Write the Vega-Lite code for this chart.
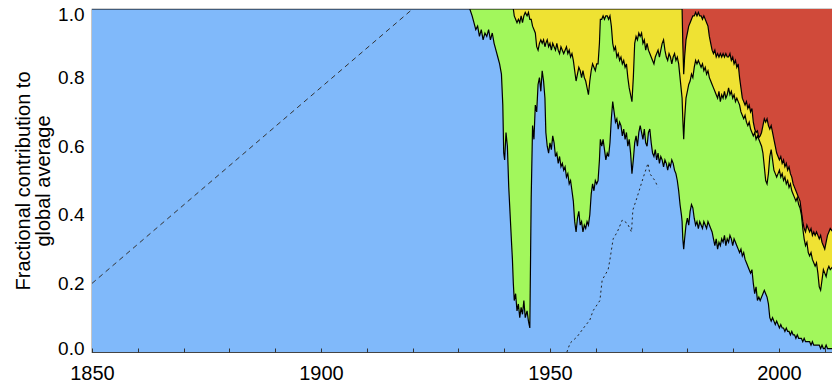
{
  "$schema": "https://vega.github.io/schema/vega-lite/v6.json",
  "autosize": {"type": "none"},
  "padding": {"left": 92, "top": 9, "right": 0, "bottom": 31},
  "width": 741,
  "height": 343,
  "background": "white",
  "config": {
    "view": {"stroke": "#444", "strokeWidth": 1.2},
    "font": "Liberation Sans",
    "axis": {"labelFont": "Liberation Sans", "titleFont": "Liberation Sans", "labelColor": "black", "titleColor": "black", "grid": false}
  },
  "datasets": {
    "parts": [
      {"t":1850,"b":1,"bg":1,"bgy":1},
      {"t":1932.5,"b":1,"bg":1,"bgy":1},
      {"t":1933.0,"b":0.98,"bg":1,"bgy":1},
      {"t":1933.4,"b":0.96,"bg":1,"bgy":1},
      {"t":1933.8,"b":0.94,"bg":1,"bgy":1},
      {"t":1934.2,"b":0.95,"bg":1,"bgy":1},
      {"t":1934.6,"b":0.92,"bg":1,"bgy":1},
      {"t":1935.0,"b":0.94,"bg":1,"bgy":1},
      {"t":1935.4,"b":0.91,"bg":1,"bgy":1},
      {"t":1935.8,"b":0.93,"bg":1,"bgy":1},
      {"t":1936.2,"b":0.92,"bg":1,"bgy":1},
      {"t":1936.6,"b":0.94,"bg":1,"bgy":1},
      {"t":1937.0,"b":0.91,"bg":1,"bgy":1},
      {"t":1937.4,"b":0.93,"bg":1,"bgy":1},
      {"t":1937.8,"b":0.90,"bg":1,"bgy":1},
      {"t":1938.2,"b":0.88,"bg":1,"bgy":1},
      {"t":1938.6,"b":0.86,"bg":1,"bgy":1},
      {"t":1939.0,"b":0.84,"bg":1,"bgy":1},
      {"t":1939.4,"b":0.81,"bg":1,"bgy":1},
      {"t":1939.7,"b":0.72,"bg":1,"bgy":1},
      {"t":1939.9,"b":0.58,"bg":1,"bgy":1},
      {"t":1940.1,"b":0.56,"bg":1,"bgy":1},
      {"t":1940.4,"b":0.64,"bg":1,"bgy":1},
      {"t":1940.7,"b":0.60,"bg":1,"bgy":1},
      {"t":1941.0,"b":0.48,"bg":1,"bgy":1},
      {"t":1941.3,"b":0.40,"bg":1,"bgy":1},
      {"t":1941.6,"b":0.32,"bg":1,"bgy":1},
      {"t":1941.8,"b":0.27,"bg":1,"bgy":1},
      {"t":1942.0,"b":0.20,"bg":1,"bgy":1},
      {"t":1942.2,"b":0.15,"bg":0.98,"bgy":1},
      {"t":1942.5,"b":0.17,"bg":0.97,"bgy":1},
      {"t":1942.8,"b":0.12,"bg":0.96,"bgy":1},
      {"t":1943.1,"b":0.14,"bg":0.97,"bgy":1},
      {"t":1943.4,"b":0.10,"bg":0.96,"bgy":1},
      {"t":1943.7,"b":0.13,"bg":0.98,"bgy":1},
      {"t":1944.0,"b":0.11,"bg":0.96,"bgy":1},
      {"t":1944.3,"b":0.15,"bg":0.98,"bgy":1},
      {"t":1944.6,"b":0.10,"bg":0.99,"bgy":1},
      {"t":1945.0,"b":0.12,"bg":0.98,"bgy":1},
      {"t":1945.3,"b":0.09,"bg":0.99,"bgy":1},
      {"t":1945.6,"b":0.07,"bg":0.97,"bgy":1},
      {"t":1945.9,"b":0.45,"bg":0.97,"bgy":1},
      {"t":1946.2,"b":0.66,"bg":0.95,"bgy":1},
      {"t":1946.5,"b":0.62,"bg":0.94,"bgy":1},
      {"t":1946.8,"b":0.72,"bg":0.93,"bgy":1},
      {"t":1947.1,"b":0.70,"bg":0.89,"bgy":1},
      {"t":1947.4,"b":0.78,"bg":0.88,"bgy":1},
      {"t":1947.7,"b":0.80,"bg":0.90,"bgy":1},
      {"t":1948.0,"b":0.76,"bg":0.91,"bgy":1},
      {"t":1948.3,"b":0.82,"bg":0.90,"bgy":1},
      {"t":1948.6,"b":0.79,"bg":0.91,"bgy":1},
      {"t":1948.9,"b":0.74,"bg":0.89,"bgy":1},
      {"t":1949.1,"b":0.64,"bg":0.90,"bgy":1},
      {"t":1949.4,"b":0.60,"bg":0.91,"bgy":1},
      {"t":1949.7,"b":0.58,"bg":0.89,"bgy":1},
      {"t":1950.0,"b":0.61,"bg":0.90,"bgy":1},
      {"t":1950.3,"b":0.59,"bg":0.88,"bgy":1},
      {"t":1950.6,"b":0.63,"bg":0.90,"bgy":1},
      {"t":1950.9,"b":0.61,"bg":0.89,"bgy":1},
      {"t":1951.2,"b":0.57,"bg":0.88,"bgy":1},
      {"t":1951.5,"b":0.58,"bg":0.90,"bgy":1},
      {"t":1951.8,"b":0.55,"bg":0.88,"bgy":1},
      {"t":1952.1,"b":0.57,"bg":0.87,"bgy":1},
      {"t":1952.4,"b":0.54,"bg":0.89,"bgy":1},
      {"t":1952.7,"b":0.55,"bg":0.88,"bgy":1},
      {"t":1953.0,"b":0.53,"bg":0.87,"bgy":1},
      {"t":1953.3,"b":0.54,"bg":0.88,"bgy":1},
      {"t":1953.6,"b":0.51,"bg":0.89,"bgy":1},
      {"t":1953.9,"b":0.52,"bg":0.87,"bgy":1},
      {"t":1954.2,"b":0.49,"bg":0.88,"bgy":1},
      {"t":1954.5,"b":0.50,"bg":0.86,"bgy":1},
      {"t":1954.8,"b":0.47,"bg":0.87,"bgy":1},
      {"t":1955.1,"b":0.44,"bg":0.85,"bgy":1},
      {"t":1955.4,"b":0.38,"bg":0.82,"bgy":1},
      {"t":1955.7,"b":0.35,"bg":0.79,"bgy":1},
      {"t":1956.0,"b":0.39,"bg":0.81,"bgy":1},
      {"t":1956.3,"b":0.41,"bg":0.83,"bgy":1},
      {"t":1956.6,"b":0.37,"bg":0.82,"bgy":1},
      {"t":1956.9,"b":0.38,"bg":0.80,"bgy":1},
      {"t":1957.2,"b":0.35,"bg":0.82,"bgy":1},
      {"t":1957.5,"b":0.37,"bg":0.80,"bgy":1},
      {"t":1957.8,"b":0.36,"bg":0.79,"bgy":1},
      {"t":1958.1,"b":0.38,"bg":0.77,"bgy":1},
      {"t":1958.4,"b":0.37,"bg":0.75,"bgy":1},
      {"t":1958.7,"b":0.40,"bg":0.79,"bgy":1},
      {"t":1959.0,"b":0.46,"bg":0.82,"bgy":1},
      {"t":1959.3,"b":0.49,"bg":0.84,"bgy":1},
      {"t":1959.6,"b":0.47,"bg":0.83,"bgy":1},
      {"t":1959.9,"b":0.50,"bg":0.82,"bgy":1},
      {"t":1960.2,"b":0.49,"bg":0.84,"bgy":1},
      {"t":1960.5,"b":0.50,"bg":0.84,"bgy":1},
      {"t":1960.8,"b":0.56,"bg":0.90,"bgy":1},
      {"t":1961.0,"b":0.62,"bg":0.97,"bgy":1},
      {"t":1961.3,"b":0.60,"bg":0.97,"bgy":1},
      {"t":1961.6,"b":0.62,"bg":0.98,"bgy":1},
      {"t":1961.9,"b":0.59,"bg":0.97,"bgy":1},
      {"t":1962.2,"b":0.56,"bg":0.98,"bgy":1},
      {"t":1962.5,"b":0.58,"bg":0.98,"bgy":1},
      {"t":1962.8,"b":0.57,"bg":0.97,"bgy":1},
      {"t":1963.1,"b":0.61,"bg":0.98,"bgy":1},
      {"t":1963.4,"b":0.68,"bg":0.95,"bgy":1},
      {"t":1963.7,"b":0.73,"bg":0.90,"bgy":1},
      {"t":1964.0,"b":0.70,"bg":0.88,"bgy":1},
      {"t":1964.3,"b":0.67,"bg":0.89,"bgy":1},
      {"t":1964.6,"b":0.68,"bg":0.86,"bgy":1},
      {"t":1964.9,"b":0.65,"bg":0.87,"bgy":1},
      {"t":1965.2,"b":0.67,"bg":0.85,"bgy":1},
      {"t":1965.5,"b":0.66,"bg":0.86,"bgy":1},
      {"t":1965.8,"b":0.63,"bg":0.84,"bgy":1},
      {"t":1966.1,"b":0.65,"bg":0.85,"bgy":1},
      {"t":1966.4,"b":0.62,"bg":0.83,"bgy":1},
      {"t":1966.7,"b":0.64,"bg":0.84,"bgy":1},
      {"t":1967.0,"b":0.60,"bg":0.80,"bgy":1},
      {"t":1967.3,"b":0.62,"bg":0.77,"bgy":1},
      {"t":1967.6,"b":0.58,"bg":0.75,"bgy":1},
      {"t":1967.9,"b":0.52,"bg":0.73,"bgy":1},
      {"t":1968.2,"b":0.56,"bg":0.80,"bgy":1},
      {"t":1968.5,"b":0.61,"bg":0.90,"bgy":1},
      {"t":1968.8,"b":0.63,"bg":0.92,"bgy":1},
      {"t":1969.1,"b":0.60,"bg":0.91,"bgy":1},
      {"t":1969.4,"b":0.64,"bg":0.93,"bgy":1},
      {"t":1969.7,"b":0.66,"bg":0.92,"bgy":1},
      {"t":1970.0,"b":0.64,"bg":0.93,"bgy":1},
      {"t":1970.3,"b":0.62,"bg":0.90,"bgy":1},
      {"t":1970.6,"b":0.65,"bg":0.91,"bgy":1},
      {"t":1970.9,"b":0.61,"bg":0.88,"bgy":1},
      {"t":1971.2,"b":0.60,"bg":0.90,"bgy":1},
      {"t":1971.5,"b":0.64,"bg":0.88,"bgy":1},
      {"t":1971.8,"b":0.65,"bg":0.87,"bgy":1},
      {"t":1972.1,"b":0.61,"bg":0.86,"bgy":1},
      {"t":1972.4,"b":0.58,"bg":0.85,"bgy":1},
      {"t":1972.7,"b":0.57,"bg":0.84,"bgy":1},
      {"t":1973.0,"b":0.59,"bg":0.86,"bgy":1},
      {"t":1973.3,"b":0.56,"bg":0.87,"bgy":1},
      {"t":1973.6,"b":0.58,"bg":0.88,"bgy":1},
      {"t":1973.9,"b":0.55,"bg":0.86,"bgy":1},
      {"t":1974.2,"b":0.57,"bg":0.88,"bgy":1},
      {"t":1974.5,"b":0.56,"bg":0.90,"bgy":1},
      {"t":1974.8,"b":0.54,"bg":0.91,"bgy":1},
      {"t":1975.1,"b":0.56,"bg":0.88,"bgy":1},
      {"t":1975.4,"b":0.55,"bg":0.86,"bgy":1},
      {"t":1975.7,"b":0.53,"bg":0.85,"bgy":1},
      {"t":1976.0,"b":0.55,"bg":0.87,"bgy":1},
      {"t":1976.3,"b":0.54,"bg":0.86,"bgy":1},
      {"t":1976.6,"b":0.56,"bg":0.84,"bgy":1},
      {"t":1976.9,"b":0.55,"bg":0.86,"bgy":1},
      {"t":1977.2,"b":0.53,"bg":0.87,"bgy":1},
      {"t":1977.5,"b":0.52,"bg":0.85,"bgy":1},
      {"t":1977.8,"b":0.50,"bg":0.86,"bgy":1},
      {"t":1978.1,"b":0.47,"bg":0.84,"bgy":1},
      {"t":1978.4,"b":0.43,"bg":0.80,"bgy":1},
      {"t":1978.7,"b":0.40,"bg":0.76,"bgy":1},
      {"t":1978.85,"b":0.38,"bg":0.74,"bgy":1},
      {"t":1979.0,"b":0.33,"bg":0.68,"bgy":0.90},
      {"t":1979.2,"b":0.30,"bg":0.62,"bgy":0.81},
      {"t":1979.4,"b":0.33,"bg":0.68,"bgy":0.86},
      {"t":1979.7,"b":0.37,"bg":0.74,"bgy":0.91},
      {"t":1980.0,"b":0.39,"bg":0.76,"bgy":0.93},
      {"t":1980.3,"b":0.37,"bg":0.78,"bgy":0.95},
      {"t":1980.6,"b":0.41,"bg":0.79,"bgy":0.96},
      {"t":1980.9,"b":0.43,"bg":0.81,"bgy":0.97},
      {"t":1981.2,"b":0.42,"bg":0.80,"bgy":0.98},
      {"t":1981.5,"b":0.39,"bg":0.83,"bgy":0.98},
      {"t":1981.8,"b":0.37,"bg":0.85,"bgy":0.99},
      {"t":1982.1,"b":0.38,"bg":0.84,"bgy":0.98},
      {"t":1982.4,"b":0.36,"bg":0.85,"bgy":0.99},
      {"t":1982.7,"b":0.38,"bg":0.84,"bgy":0.98},
      {"t":1983.0,"b":0.37,"bg":0.83,"bgy":0.98},
      {"t":1983.3,"b":0.36,"bg":0.84,"bgy":0.97},
      {"t":1983.6,"b":0.38,"bg":0.82,"bgy":0.98},
      {"t":1983.9,"b":0.37,"bg":0.83,"bgy":0.97},
      {"t":1984.2,"b":0.36,"bg":0.81,"bgy":0.96},
      {"t":1984.5,"b":0.38,"bg":0.82,"bgy":0.95},
      {"t":1984.8,"b":0.37,"bg":0.80,"bgy":0.92},
      {"t":1985.1,"b":0.36,"bg":0.79,"bgy":0.90},
      {"t":1985.4,"b":0.35,"bg":0.78,"bgy":0.88},
      {"t":1985.7,"b":0.33,"bg":0.77,"bgy":0.87},
      {"t":1986.0,"b":0.31,"bg":0.76,"bgy":0.88},
      {"t":1986.3,"b":0.33,"bg":0.75,"bgy":0.86},
      {"t":1986.6,"b":0.30,"bg":0.74,"bgy":0.87},
      {"t":1986.9,"b":0.32,"bg":0.76,"bgy":0.86},
      {"t":1987.2,"b":0.31,"bg":0.73,"bgy":0.87},
      {"t":1987.5,"b":0.33,"bg":0.75,"bgy":0.86},
      {"t":1987.8,"b":0.32,"bg":0.74,"bgy":0.87},
      {"t":1988.1,"b":0.34,"bg":0.76,"bgy":0.86},
      {"t":1988.4,"b":0.31,"bg":0.74,"bgy":0.87},
      {"t":1988.7,"b":0.33,"bg":0.75,"bgy":0.86},
      {"t":1989.0,"b":0.32,"bg":0.77,"bgy":0.86},
      {"t":1989.3,"b":0.34,"bg":0.75,"bgy":0.87},
      {"t":1989.6,"b":0.33,"bg":0.76,"bgy":0.85},
      {"t":1989.9,"b":0.31,"bg":0.74,"bgy":0.86},
      {"t":1990.2,"b":0.33,"bg":0.75,"bgy":0.84},
      {"t":1990.5,"b":0.32,"bg":0.73,"bgy":0.85},
      {"t":1990.8,"b":0.31,"bg":0.74,"bgy":0.83},
      {"t":1991.1,"b":0.30,"bg":0.73,"bgy":0.84},
      {"t":1991.4,"b":0.29,"bg":0.72,"bgy":0.80},
      {"t":1991.7,"b":0.30,"bg":0.70,"bgy":0.77},
      {"t":1992.0,"b":0.28,"bg":0.69,"bgy":0.74},
      {"t":1992.3,"b":0.29,"bg":0.68,"bgy":0.73},
      {"t":1992.6,"b":0.27,"bg":0.69,"bgy":0.72},
      {"t":1992.9,"b":0.26,"bg":0.67,"bgy":0.73},
      {"t":1993.2,"b":0.25,"bg":0.66,"bgy":0.71},
      {"t":1993.5,"b":0.24,"bg":0.67,"bgy":0.72},
      {"t":1993.8,"b":0.23,"bg":0.65,"bgy":0.70},
      {"t":1994.1,"b":0.24,"bg":0.64,"bgy":0.71},
      {"t":1994.4,"b":0.20,"bg":0.63,"bgy":0.67},
      {"t":1994.7,"b":0.17,"bg":0.64,"bgy":0.65},
      {"t":1995.0,"b":0.19,"bg":0.62,"bgy":0.64},
      {"t":1995.3,"b":0.15,"bg":0.63,"bgy":0.645},
      {"t":1995.6,"b":0.16,"bg":0.62,"bgy":0.625},
      {"t":1995.9,"b":0.15,"bg":0.61,"bgy":0.63},
      {"t":1996.2,"b":0.16,"bg":0.60,"bgy":0.64},
      {"t":1996.5,"b":0.17,"bg":0.58,"bgy":0.66},
      {"t":1996.8,"b":0.18,"bg":0.54,"bgy":0.68},
      {"t":1997.1,"b":0.17,"bg":0.50,"bgy":0.67},
      {"t":1997.4,"b":0.16,"bg":0.49,"bgy":0.68},
      {"t":1997.7,"b":0.14,"bg":0.52,"bgy":0.66},
      {"t":1998.0,"b":0.10,"bg":0.57,"bgy":0.65},
      {"t":1998.3,"b":0.09,"bg":0.59,"bgy":0.66},
      {"t":1998.6,"b":0.10,"bg":0.56,"bgy":0.64},
      {"t":1998.9,"b":0.09,"bg":0.53,"bgy":0.62},
      {"t":1999.2,"b":0.08,"bg":0.52,"bgy":0.60},
      {"t":1999.5,"b":0.09,"bg":0.51,"bgy":0.58},
      {"t":1999.8,"b":0.08,"bg":0.52,"bgy":0.57},
      {"t":2000.1,"b":0.07,"bg":0.53,"bgy":0.56},
      {"t":2000.4,"b":0.08,"bg":0.51,"bgy":0.57},
      {"t":2000.7,"b":0.07,"bg":0.52,"bgy":0.55},
      {"t":2001.0,"b":0.07,"bg":0.50,"bgy":0.56},
      {"t":2001.3,"b":0.06,"bg":0.51,"bgy":0.54},
      {"t":2001.6,"b":0.07,"bg":0.49,"bgy":0.55},
      {"t":2001.9,"b":0.06,"bg":0.50,"bgy":0.53},
      {"t":2002.2,"b":0.06,"bg":0.48,"bgy":0.54},
      {"t":2002.5,"b":0.05,"bg":0.49,"bgy":0.52},
      {"t":2002.8,"b":0.06,"bg":0.47,"bgy":0.51},
      {"t":2003.1,"b":0.05,"bg":0.46,"bgy":0.49},
      {"t":2003.4,"b":0.05,"bg":0.45,"bgy":0.48},
      {"t":2003.7,"b":0.04,"bg":0.44,"bgy":0.47},
      {"t":2004.0,"b":0.05,"bg":0.45,"bgy":0.46},
      {"t":2004.3,"b":0.04,"bg":0.43,"bgy":0.45},
      {"t":2004.6,"b":0.04,"bg":0.42,"bgy":0.44},
      {"t":2004.9,"b":0.04,"bg":0.40,"bgy":0.41},
      {"t":2005.2,"b":0.03,"bg":0.36,"bgy":0.38},
      {"t":2005.5,"b":0.04,"bg":0.33,"bgy":0.36},
      {"t":2005.8,"b":0.03,"bg":0.31,"bgy":0.35},
      {"t":2006.1,"b":0.03,"bg":0.32,"bgy":0.37},
      {"t":2006.4,"b":0.03,"bg":0.29,"bgy":0.36},
      {"t":2006.7,"b":0.03,"bg":0.28,"bgy":0.35},
      {"t":2007.0,"b":0.02,"bg":0.29,"bgy":0.36},
      {"t":2007.3,"b":0.03,"bg":0.27,"bgy":0.34},
      {"t":2007.6,"b":0.02,"bg":0.26,"bgy":0.35},
      {"t":2007.9,"b":0.02,"bg":0.25,"bgy":0.34},
      {"t":2008.2,"b":0.02,"bg":0.26,"bgy":0.35},
      {"t":2008.5,"b":0.02,"bg":0.23,"bgy":0.34},
      {"t":2008.8,"b":0.02,"bg":0.19,"bgy":0.33},
      {"t":2009.1,"b":0.01,"bg":0.18,"bgy":0.34},
      {"t":2009.4,"b":0.02,"bg":0.21,"bgy":0.32},
      {"t":2009.7,"b":0.01,"bg":0.24,"bgy":0.31},
      {"t":2010.0,"b":0.01,"bg":0.23,"bgy":0.30},
      {"t":2010.3,"b":0.02,"bg":0.22,"bgy":0.32},
      {"t":2010.6,"b":0.01,"bg":0.24,"bgy":0.34},
      {"t":2010.9,"b":0.01,"bg":0.25,"bgy":0.35},
      {"t":2011.2,"b":0.01,"bg":0.24,"bgy":0.36},
      {"t":2011.8,"b":0.01,"bg":0.25,"bgy":0.35}
    ],
    "dash": [
      {"t":1850,"v":0.2},
      {"t":1920,"v":1.0}
    ],
    "dot": [
      {"t":1953.7,"v":0.0},
      {"t":1954.4,"v":0.026},
      {"t":1955.9,"v":0.044},
      {"t":1957.5,"v":0.073},
      {"t":1958.7,"v":0.093},
      {"t":1959.4,"v":0.12},
      {"t":1960.9,"v":0.15},
      {"t":1961.4,"v":0.21},
      {"t":1962.7,"v":0.24},
      {"t":1963.1,"v":0.27},
      {"t":1963.8,"v":0.33},
      {"t":1964.7,"v":0.35},
      {"t":1965.8,"v":0.385},
      {"t":1966.9,"v":0.375},
      {"t":1967.8,"v":0.35},
      {"t":1968.1,"v":0.414},
      {"t":1969.0,"v":0.45},
      {"t":1969.7,"v":0.48},
      {"t":1970.4,"v":0.51},
      {"t":1971.4,"v":0.55},
      {"t":1971.8,"v":0.52},
      {"t":1972.9,"v":0.50},
      {"t":1973.6,"v":0.48}
    ]
  },
  "layer": [
    {
      "data": {"name": "parts"},
      "mark": {"type": "area", "color": "#D04A3A", "opacity": 1, "clip": true},
      "encoding": {
        "x": {"field": "t", "type": "quantitative", "scale": {"domain": [1850, 2011.8], "nice": false, "zero": false},
          "axis": {"values": [1850,1860,1870,1880,1890,1900,1910,1920,1930,1940,1950,1960,1970,1980,1990,2000,2010],
            "labelExpr": "datum.value % 50 === 0 ? datum.label : ''", "format": "d", "title": null,
            "tickSize": -4, "tickColor": "#333", "tickWidth": 1, "domain": false, "labelPadding": 15,
            "labelFontSize": 20, "labelFlush": false, "labelOverlap": false, "zindex": 1}},
        "y": {"datum": 1, "type": "quantitative", "scale": {"domain": [0, 1], "nice": false},
          "axis": {"values": [0, 0.2, 0.4, 0.6, 0.8, 1.0], "format": ".1f", "ticks": false, "domain": false,
            "labelPadding": 8, "labelFontSize": 19,
            "labelOffset": {"condition": [{"test": "datum.value >= 1", "value": 5}, {"test": "datum.value <= 0", "value": -4}], "value": 0},
            "title": ["Fractional contribution to", "global average"], "titleFontSize": 20, "titleFontWeight": "normal",
            "titleLineHeight": 20, "titlePadding": 4}}
      }
    },
    {
      "data": {"name": "parts"},
      "mark": {"type": "area", "color": "#EFE233", "opacity": 1, "clip": true, "line": {"color": "black", "strokeWidth": 1.2}},
      "encoding": {
        "x": {"field": "t", "type": "quantitative"},
        "y": {"field": "bgy", "type": "quantitative", "stack": null}
      }
    },
    {
      "data": {"name": "parts"},
      "mark": {"type": "area", "color": "#A2F75C", "opacity": 1, "clip": true, "line": {"color": "black", "strokeWidth": 1.2}},
      "encoding": {
        "x": {"field": "t", "type": "quantitative"},
        "y": {"field": "bg", "type": "quantitative", "stack": null}
      }
    },
    {
      "data": {"name": "parts"},
      "mark": {"type": "area", "color": "#80B9FA", "opacity": 1, "clip": true, "line": {"color": "black", "strokeWidth": 1.2}},
      "encoding": {
        "x": {"field": "t", "type": "quantitative"},
        "y": {"field": "b", "type": "quantitative", "stack": null}
      }
    },
    {
      "data": {"name": "dash"},
      "mark": {"type": "line", "color": "#333", "strokeWidth": 1, "strokeDash": [5, 4], "clip": true},
      "encoding": {
        "x": {"field": "t", "type": "quantitative"},
        "y": {"field": "v", "type": "quantitative"}
      }
    },
    {
      "data": {"name": "dot"},
      "mark": {"type": "line", "color": "#222", "strokeWidth": 1, "strokeDash": [2, 3], "clip": true},
      "encoding": {
        "x": {"field": "t", "type": "quantitative"},
        "y": {"field": "v", "type": "quantitative"}
      }
    }
  ]
}
